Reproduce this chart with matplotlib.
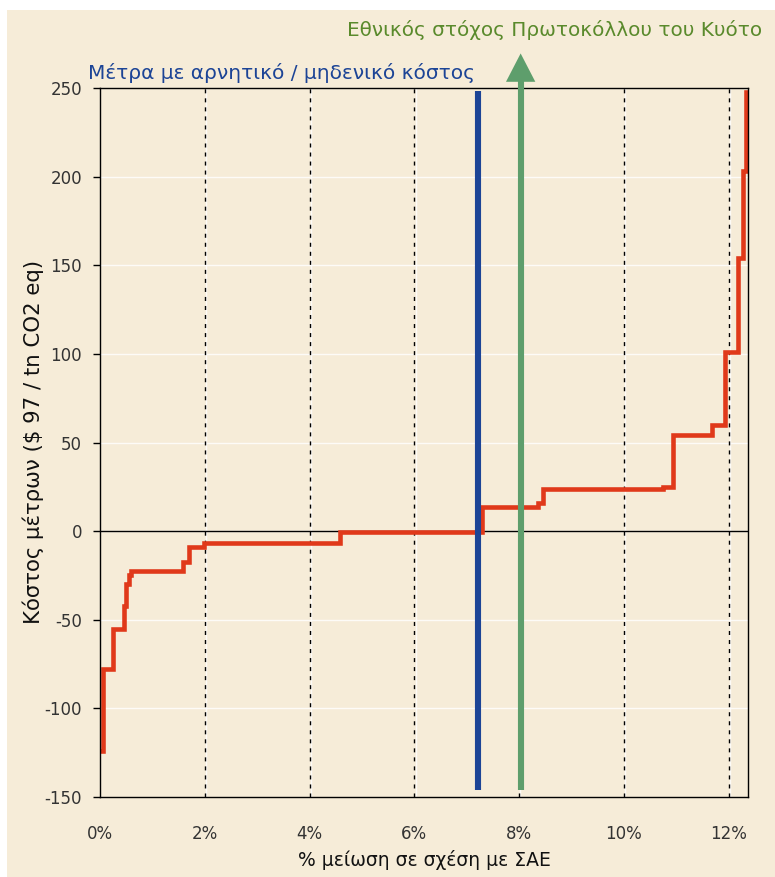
import matplotlib
matplotlib.use("Agg")
import matplotlib.pyplot as plt
from matplotlib.patches import Rectangle, Polygon

plt.rcParams["axes.unicode_minus"] = False

# ---- data ----
reduction_pct = [0.0, 0.05, 0.25, 0.46, 0.50, 0.56, 0.60, 1.59, 1.70, 1.98, 4.58,
                 7.30, 8.36, 8.45, 10.75, 10.94, 11.68, 11.93, 12.18, 12.27, 12.33, 12.36]
cost = [-124, -78, -55, -42, -30, -25, -22.5, -17.5, -9, -6.8, -0.5,
        13.7, 16, 23.5, 25, 54, 60, 101, 154, 203, 248, 248]
zero_cost_limit = 7.21     # % reduction achievable with negative / zero cost
kyoto_target = 8.03        # national Kyoto target (% reduction)
x_ticks = [0, 2, 4, 6, 8, 10, 12]
x_tick_labels = ["0%", "2%", "4%", "6%", "8%", "10%", "12%"]
y_ticks = [-150, -100, -50, 0, 50, 100, 150, 200, 250]

label_zero = "Μέτρα με αρνητικό / μηδενικό κόστος"
label_kyoto = "Εθνικός στόχος Πρωτοκόλλου του Κυότο"
xlabel = "% μείωση σε σχέση με ΣΑΕ"
ylabel = "Κόστος μέτρων ($ 97 / tn CO2 eq)"

BG = "#F6ECD8"
RED = "#E0391A"
BLUE = "#1C4496"
GREEN = "#5E9E6C"
TXT = "#333333"

W, H = 775, 877
fig = plt.figure(figsize=(W / 100, H / 100), dpi=100, facecolor="white")
fig.patches.append(Rectangle((7 / W, 0), 1 - 7 / W, 1 - 10 / H, transform=fig.transFigure,
                             facecolor=BG, edgecolor="none", zorder=-10))

ax = fig.add_axes([100 / W, (H - 797) / H, 648 / W, 709 / H])
ax.set_facecolor(BG)
ax.set_xlim(0, 12.37)
ax.set_ylim(-150, 250)

# grid: faint white horizontal lines, white + dashed black vertical lines
for yv in y_ticks[1:-1]:
    ax.axhline(yv, color="white", lw=1.0, alpha=0.8, zorder=0.5)
for xv in x_ticks[1:]:
    ax.axvline(xv + 0.025, color="white", lw=1.0, alpha=0.8, zorder=0.5)
    ax.axvline(xv, color="black", lw=1.0, ls=(0, (2.9, 3.6)), zorder=0.6)
ax.axhline(0, color="black", lw=1.0, zorder=1)

# cost curve
ax.plot(reduction_pct, cost, drawstyle="steps-post", color=RED, lw=3.3,
        solid_joinstyle="miter", zorder=2)

# zero-cost limit line
ax.plot([zero_cost_limit, zero_cost_limit], [-146, 248.5], color=BLUE, lw=4.4,
        solid_capstyle="butt", zorder=3)

# Kyoto target arrow
ax.plot([kyoto_target, kyoto_target], [-146, 254], color=GREEN, lw=4.4,
        solid_capstyle="butt", zorder=3, clip_on=False)
hw = 0.28
head = Polygon([[kyoto_target - hw, 253.5], [kyoto_target + hw, 253.5], [kyoto_target, 269.5]],
               closed=True, facecolor=GREEN, edgecolor="none", zorder=3, clip_on=False)
ax.add_patch(head)

for s in ax.spines.values():
    s.set_color("black")
    s.set_linewidth(1.0)

ax.set_xticks(x_ticks)
ax.set_xticklabels(x_tick_labels)
ax.set_yticks(y_ticks)
ax.tick_params(axis="x", length=0, pad=20, labelsize=12, labelcolor=TXT)
ax.tick_params(axis="y", length=5, width=1, direction="out", pad=8, labelsize=12, labelcolor=TXT)

ax.set_xlabel(xlabel, fontsize=13.5, color="#111111")
ax.xaxis.set_label_coords(0.5, -(860 - 797) / 709)
ax.xaxis.label.set_va("center")
ax.set_ylabel(ylabel, fontsize=15.3, color="#111111")
ax.yaxis.set_label_coords(-(100 - 33) / 648, (797 - 442) / 709)
ax.yaxis.label.set_va("center")

fig.text(762 / W, 1 - 30 / H, label_kyoto, color="#5A8A2C", fontsize=14.4,
         ha="right", va="center")
fig.text(88 / W, 1 - 73 / H, label_zero, color=BLUE, fontsize=14.5,
         ha="left", va="center")

fig.savefig("out.png", dpi=100, facecolor=fig.get_facecolor())
